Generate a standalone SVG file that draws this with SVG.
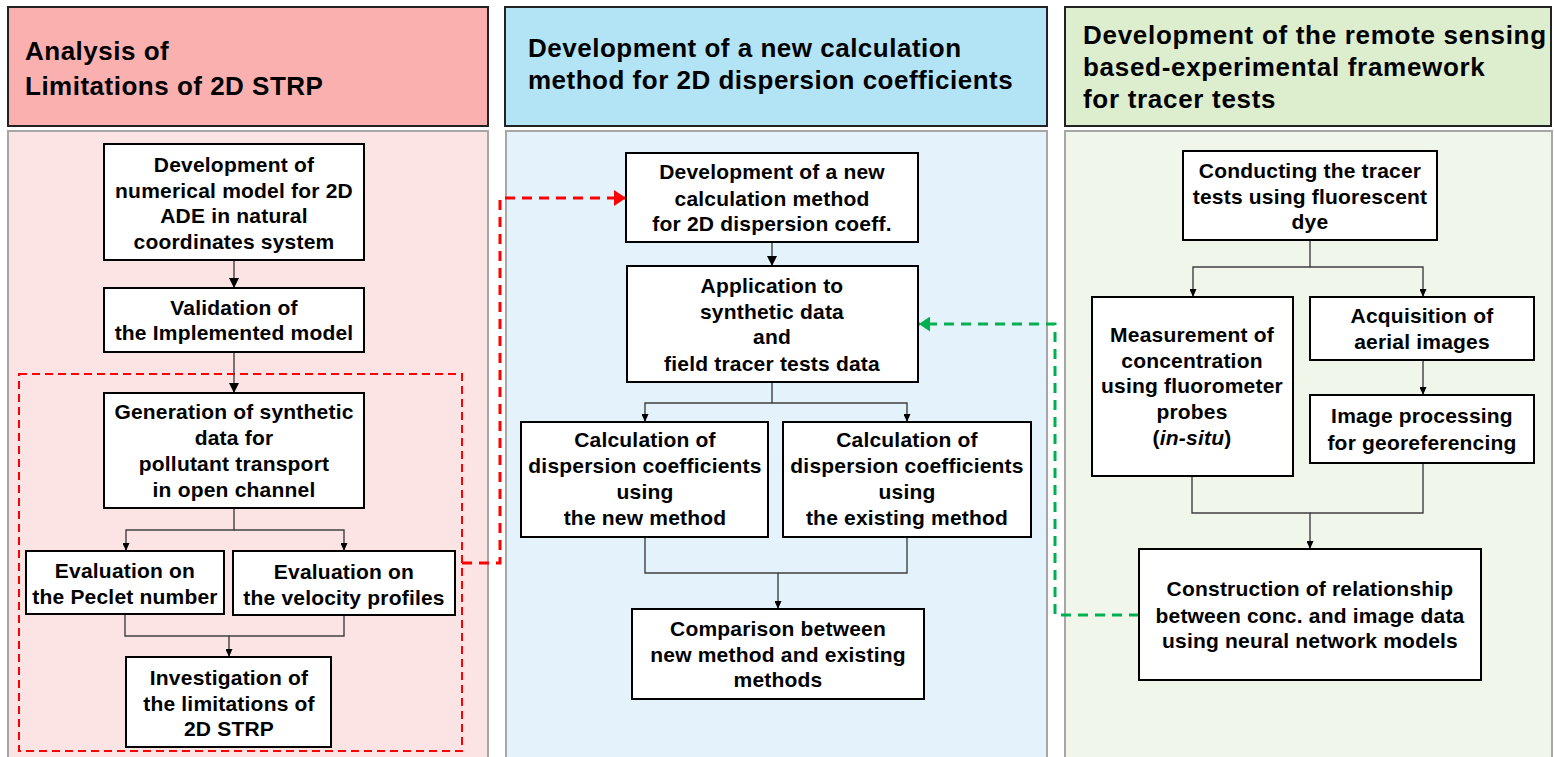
<svg xmlns="http://www.w3.org/2000/svg" width="1554" height="757" viewBox="0 0 1554 757">
<style>
.hd{font-family:"Liberation Sans",Arial,sans-serif;font-weight:bold;font-size:26px;letter-spacing:0.5px;fill:#000}
.hr{letter-spacing:0.7px}
.t{font-family:"Liberation Sans",Arial,sans-serif;font-weight:bold;font-size:21px;letter-spacing:0.2px;fill:#000;text-anchor:middle}
.bx{fill:#fff;stroke:#000;stroke-width:2}
.c{fill:none;stroke:#404040;stroke-width:1.4}
.panel{stroke:#a6a6a6;stroke-width:2}
.hbox{stroke:#222;stroke-width:2}
</style>
<defs>
<marker id="al" markerWidth="10" markerHeight="10" refX="10" refY="5" orient="auto" markerUnits="userSpaceOnUse"><path d="M0,0 L10,5 L0,10 z" fill="#000"/></marker>
<marker id="as" markerWidth="8" markerHeight="7" refX="8" refY="3.5" orient="auto" markerUnits="userSpaceOnUse"><path d="M0,0 L8,3.5 L0,7 z" fill="#000"/></marker>
<marker id="ar" markerWidth="12" markerHeight="16" refX="12" refY="8" orient="auto" markerUnits="userSpaceOnUse"><path d="M0,0 L12,8 L0,16 z" fill="#ff0000"/></marker>
<marker id="ag" markerWidth="11" markerHeight="15" refX="11" refY="7.5" orient="auto" markerUnits="userSpaceOnUse"><path d="M0,0 L11,7.5 L0,15 z" fill="#00b050"/></marker>
</defs>
<rect width="1554" height="757" fill="#fff"/>

<g id="panels">
<rect class="panel" x="8" y="131" width="480" height="630" fill="#fde4e4"/>
<rect class="panel" x="506" y="131" width="541" height="630" fill="#e4f3fb"/>
<rect class="panel" x="1065" y="131" width="487" height="630" fill="#f0f6ea"/>
</g>

<g id="header-left">
<rect class="hbox" x="8" y="7" width="480" height="119" fill="#fbb0b0"/>
<text class="hd" x="25" y="60">Analysis of</text>
<text class="hd" x="25" y="95">Limitations of 2D STRP</text>
</g>
<g id="header-middle">
<rect class="hbox" x="505" y="7" width="542" height="119" fill="#b3e4f6"/>
<text class="hd" x="528" y="57">Development of a new calculation</text>
<text class="hd" x="528" y="89">method for 2D dispersion coefficients</text>
</g>
<g id="header-right">
<rect class="hbox" x="1065" y="7" width="486" height="119" fill="#ddeecf"/>
<text class="hd hr" x="1083" y="44">Development of the remote sensing</text>
<text class="hd hr" x="1083" y="76">based-experimental framework</text>
<text class="hd hr" x="1083" y="108">for tracer tests</text>
</g>

<g id="group-red">
<rect x="19" y="374" width="443" height="377" fill="none" stroke="#ff0000" stroke-width="2" stroke-dasharray="8 5"/>
</g>

<g id="connectors">
<path class="c" d="M234,260 V288" marker-end="url(#al)"/>
<path class="c" d="M234,352 V393" marker-end="url(#al)"/>
<path class="c" d="M234,508 V530 H126 V551" marker-end="url(#as)"/>
<path class="c" d="M234,530 H344 V551" marker-end="url(#as)"/>
<path class="c" d="M125,614 V636 H229 V657" marker-end="url(#as)"/>
<path class="c" d="M344,615 V636 H229"/>

<path class="c" d="M772,242 V266" marker-end="url(#al)"/>
<path class="c" d="M772,382 V403 H645 V422" marker-end="url(#as)"/>
<path class="c" d="M772,403 H907 V422" marker-end="url(#as)"/>
<path class="c" d="M645,537 V573 H778 V609" marker-end="url(#as)"/>
<path class="c" d="M907,537 V573 H778"/>

<path class="c" d="M1310,240 V267 H1193 V297" marker-end="url(#as)"/>
<path class="c" d="M1310,267 H1423 V297" marker-end="url(#as)"/>
<path class="c" d="M1423,360 V395" marker-end="url(#as)"/>
<path class="c" d="M1192,476 V513 H1310 V549" marker-end="url(#as)"/>
<path class="c" d="M1423,463 V513 H1310"/>

<path d="M462,563 H500 V198 H626" fill="none" stroke="#ff0000" stroke-width="3" stroke-dasharray="10 7" marker-end="url(#ar)"/>
<path d="M1139,615 H1055 V324 H919" fill="none" stroke="#00b050" stroke-width="3" stroke-dasharray="10 7" marker-end="url(#ag)"/>
</g>

<g id="b1">
<rect class="bx" x="104" y="144" width="260" height="116"/>
<text class="t" x="234" y="172">Development of</text>
<text class="t" x="234" y="198">numerical model for 2D</text>
<text class="t" x="234" y="223">ADE in natural</text>
<text class="t" x="234" y="249">coordinates system</text>
</g>
<g id="b2">
<rect class="bx" x="104" y="288" width="260" height="64"/>
<text class="t" x="234" y="315">Validation of</text>
<text class="t" x="234" y="340">the Implemented model</text>
</g>
<g id="b3">
<rect class="bx" x="104" y="393" width="260" height="115"/>
<text class="t" x="234" y="419">Generation of synthetic</text>
<text class="t" x="234" y="445">data for</text>
<text class="t" x="234" y="471">pollutant transport</text>
<text class="t" x="234" y="497">in open channel</text>
</g>
<g id="b4">
<rect class="bx" x="26" y="551" width="198" height="63"/>
<text class="t" x="125" y="578">Evaluation on</text>
<text class="t" x="125" y="604">the Peclet number</text>
</g>
<g id="b5">
<rect class="bx" x="233" y="551" width="222" height="64"/>
<text class="t" x="344" y="579">Evaluation on</text>
<text class="t" x="344" y="605">the velocity profiles</text>
</g>
<g id="b6">
<rect class="bx" x="126" y="657" width="205" height="90"/>
<text class="t" x="229" y="685">Investigation of</text>
<text class="t" x="229" y="711">the limitations of</text>
<text class="t" x="229" y="736">2D STRP</text>
</g>

<g id="m1">
<rect class="bx" x="626" y="153" width="292" height="89"/>
<text class="t" x="772" y="179">Development of a new</text>
<text class="t" x="772" y="206">calculation method</text>
<text class="t" x="772" y="231">for 2D dispersion coeff.</text>
</g>
<g id="m2">
<rect class="bx" x="627" y="266" width="291" height="116"/>
<text class="t" x="772" y="293">Application to</text>
<text class="t" x="772" y="319">synthetic data</text>
<text class="t" x="772" y="344">and</text>
<text class="t" x="772" y="371">field tracer tests data</text>
</g>
<g id="m3">
<rect class="bx" x="521" y="422" width="247" height="115"/>
<text class="t" x="645" y="447">Calculation of</text>
<text class="t" x="645" y="473">dispersion coefficients</text>
<text class="t" x="645" y="499">using</text>
<text class="t" x="645" y="525">the new method</text>
</g>
<g id="m4">
<rect class="bx" x="783" y="422" width="248" height="115"/>
<text class="t" x="907" y="447">Calculation of</text>
<text class="t" x="907" y="473">dispersion coefficients</text>
<text class="t" x="907" y="499">using</text>
<text class="t" x="907" y="525">the existing method</text>
</g>
<g id="m5">
<rect class="bx" x="632" y="609" width="292" height="90"/>
<text class="t" x="778" y="636">Comparison between</text>
<text class="t" x="778" y="662">new method and existing</text>
<text class="t" x="778" y="687">methods</text>
</g>

<g id="r1">
<rect class="bx" x="1183" y="151" width="254" height="89"/>
<text class="t" x="1310" y="178">Conducting the tracer</text>
<text class="t" x="1310" y="204">tests using fluorescent</text>
<text class="t" x="1310" y="229">dye</text>
</g>
<g id="r2">
<rect class="bx" x="1092" y="297" width="201" height="179"/>
<text class="t" x="1192" y="342">Measurement of</text>
<text class="t" x="1192" y="368">concentration</text>
<text class="t" x="1192" y="393">using fluorometer</text>
<text class="t" x="1192" y="419">probes</text>
<text class="t" x="1192" y="445">(<tspan font-style="italic">in-situ</tspan>)</text>
</g>
<g id="r3">
<rect class="bx" x="1310" y="297" width="224" height="63"/>
<text class="t" x="1422" y="323">Acquisition of</text>
<text class="t" x="1422" y="349">aerial images</text>
</g>
<g id="r4">
<rect class="bx" x="1310" y="395" width="224" height="68"/>
<text class="t" x="1422" y="423">Image processing</text>
<text class="t" x="1422" y="450">for georeferencing</text>
</g>
<g id="r5">
<rect class="bx" x="1139" y="549" width="342" height="131"/>
<text class="t" x="1310" y="596">Construction of relationship</text>
<text class="t" x="1310" y="623">between conc. and image data</text>
<text class="t" x="1310" y="648">using neural network models</text>
</g>
</svg>
